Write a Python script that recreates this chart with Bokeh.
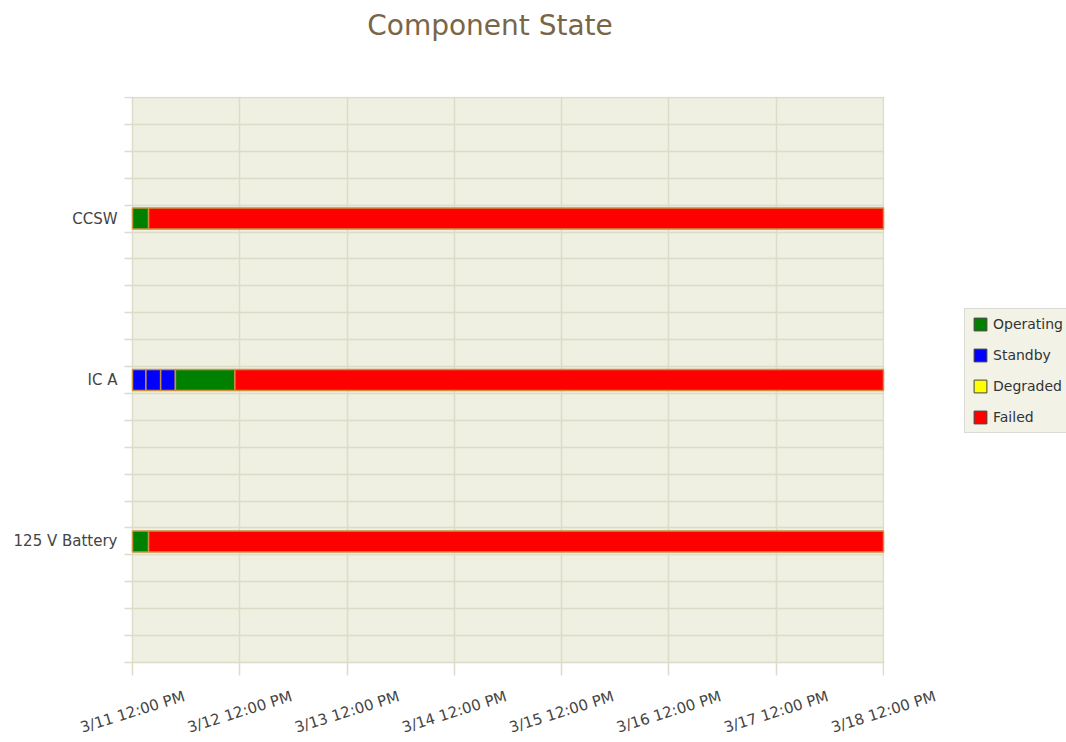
import pandas as pd
from bokeh.plotting import figure
from bokeh.models import (ColumnDataSource, FixedTicker, Legend, LegendItem,
                          Range1d, BoxAnnotation, Label)
from bokeh.core.properties import value
from bokeh.embed import file_html
from bokeh.resources import INLINE

# ---------------- data ----------------
components = ["125 V Battery", "IC A", "CCSW"]
component_pos = [4.5, 10.5, 16.5]

states = ["Operating", "Standby", "Degraded", "Failed"]
state_colors = ["#008000", "#0000ff", "#ffff00", "#ff0000"]

seg_component = ["CCSW", "CCSW",
                 "IC A", "IC A", "IC A", "IC A", "IC A",
                 "125 V Battery", "125 V Battery"]
seg_state = ["Operating", "Failed",
             "Standby", "Standby", "Standby", "Operating", "Failed",
             "Operating", "Failed"]
seg_start = ["2011-03-11 12:00", "2011-03-11 15:36",
             "2011-03-11 12:00", "2011-03-11 15:00", "2011-03-11 18:18",
             "2011-03-11 21:36", "2011-03-12 10:54",
             "2011-03-11 12:00", "2011-03-11 15:36"]
seg_end = ["2011-03-11 15:36", "2011-03-18 12:00",
           "2011-03-11 15:00", "2011-03-11 18:18", "2011-03-11 21:36",
           "2011-03-12 10:54", "2011-03-18 12:00",
           "2011-03-11 15:36", "2011-03-18 12:00"]

tick_times = ["2011-03-11 12:00", "2011-03-12 12:00", "2011-03-13 12:00",
              "2011-03-14 12:00", "2011-03-15 12:00", "2011-03-16 12:00",
              "2011-03-17 12:00", "2011-03-18 12:00"]
tick_labels = ["3/11 12:00 PM", "3/12 12:00 PM", "3/13 12:00 PM",
               "3/14 12:00 PM", "3/15 12:00 PM", "3/16 12:00 PM",
               "3/17 12:00 PM", "3/18 12:00 PM"]

title_text = "Component State"

# ---------------- layout constants (pixels) ----------------
W, H = 1066, 742
PLOT_L, PLOT_R, PLOT_T, PLOT_B = 132, 883, 97, 662
N_ROWS = 21                 # grid rows of the category axis
X_TICK_LEN = 13             # x tick length below the plot
Y_TICK_LEN = 8              # y tick length left of the plot
X_LABEL_DY = 49.5           # centre of rotated x labels below the plot
Y_LABEL_DX = 15             # gap between y labels and the plot
TITLE_CX, TITLE_CY = 489.5, 25
LEGEND_X, LEGEND_TOP, LEGEND_H = 964, 308, 125

# ---------------- build ----------------
def ms(s):
    return pd.Timestamp(s).value / 1e6

pos_of = dict(zip(components, component_pos))
color_of = dict(zip(states, state_colors))

src = ColumnDataSource(dict(
    y=[pos_of[c] for c in seg_component],
    left=[ms(s) for s in seg_start],
    right=[ms(s) for s in seg_end],
    color=[color_of[s] for s in seg_state],
    state=seg_state,
))

tick_ms = [ms(t) for t in tick_times]
ms_per_px = (tick_ms[-1] - tick_ms[0]) / (PLOT_R - PLOT_L)
px_per_row = (PLOT_B - PLOT_T) / N_ROWS

def px_x(px):           # canvas x pixel -> data x
    return tick_ms[0] + (px - PLOT_L) * ms_per_px

def px_y(px):           # canvas y pixel -> data y
    return (PLOT_B - px) / px_per_row

# the frame covers the whole canvas; plot area, tick strips and
# surroundings are painted inside it
p = figure(width=W, height=H, output_backend="svg", toolbar_location=None,
           x_range=Range1d(px_x(0), px_x(W)),
           y_range=Range1d(px_y(H), px_y(0)),
           x_axis_location=None, y_axis_location=None,
           min_border=0)
p.min_border_left = 0
p.min_border_right = 0
p.min_border_top = 0
p.min_border_bottom = 0

p.background_fill_color = "white"
p.border_fill_color = "white"
p.outline_line_color = None

# plot area background
p.add_layout(BoxAnnotation(left=tick_ms[0], right=tick_ms[-1], bottom=0, top=N_ROWS,
                           fill_color="#efefe2", fill_alpha=1, line_color=None,
                           level="image"))

# grids (lines outside the plot area double as tick marks)
grid_col = "#dcdcc8"
p.xgrid.ticker = FixedTicker(ticks=tick_ms)
p.ygrid.ticker = FixedTicker(ticks=list(range(N_ROWS + 1)))
p.xgrid.grid_line_color = grid_col
p.ygrid.grid_line_color = grid_col
p.xgrid.grid_line_width = 1.5
p.ygrid.grid_line_width = 1.5

# white covers around the plot area and its tick strips
half = 0.75
for kw in (dict(left=px_x(PLOT_R + half)),
           dict(right=px_x(PLOT_L - Y_TICK_LEN)),
           dict(bottom=px_y(PLOT_T - half)),
           dict(top=px_y(PLOT_B + X_TICK_LEN))):
    p.add_layout(BoxAnnotation(fill_color="white", fill_alpha=1, line_color=None,
                               level="underlay", **kw))

# x tick labels, centred on ticks and rotated
xlab_src = ColumnDataSource(dict(x=tick_ms,
                                 y=[px_y(PLOT_B + X_LABEL_DY)] * len(tick_ms),
                                 text=tick_labels))
p.text(x="x", y="y", text="text", source=xlab_src, angle=0.30,
       text_align="center", text_baseline="middle",
       text_font=value("DejaVu Sans"), text_font_size="15px", text_color="#444444")

# y category labels
ylab_src = ColumnDataSource(dict(x=[px_x(PLOT_L - Y_LABEL_DX)] * len(components),
                                 y=component_pos, text=components))
p.text(x="x", y="y", text="text", source=ylab_src,
       text_align="right", text_baseline="middle",
       text_font=value("DejaVu Sans"), text_font_size="15px", text_color="#444444")

# bars
p.hbar(y="y", left="left", right="right", height=0.78, fill_color="color",
       line_color="#c8923e", line_width=1.5, source=src)

# title
p.add_layout(Label(x=px_x(TITLE_CX), y=px_y(TITLE_CY), text=title_text,
                   text_align="center", text_baseline="middle",
                   text_font="DejaVu Sans", text_font_size="28px",
                   text_color="#7a6548"))

# legend
items = []
for s, c in zip(states, state_colors):
    r = p.hbar(y=[float("nan")], left=[float("nan")], right=[float("nan")],
               height=0.5, fill_color=c, line_color="#444444", line_width=1)
    items.append(LegendItem(label=s, renderers=[r]))

legend = Legend(items=items,
                location=(LEGEND_X, H - (LEGEND_TOP + LEGEND_H)),
                background_fill_color="#f2f2e7", background_fill_alpha=1,
                border_line_color="#c4c4c4",
                label_text_font="DejaVu Sans", label_text_font_size="14px",
                label_text_color="#333333",
                glyph_width=16, glyph_height=16, label_height=13,
                spacing=15, padding=7, label_standoff=5, margin=0)
p.add_layout(legend, "center")

open("out.html", "w").write(file_html(p, INLINE))
